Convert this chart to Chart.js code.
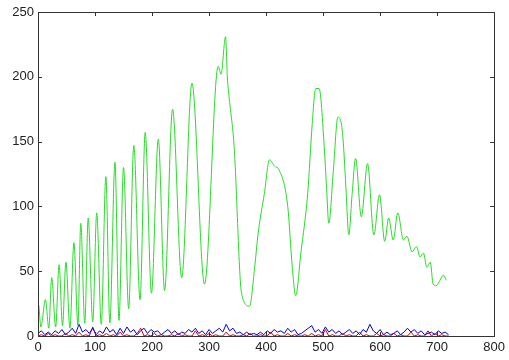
<!DOCTYPE html>
<html>
<head>
<meta charset="utf-8">
<script src="https://cdn.jsdelivr.net/npm/chart.js@4/dist/chart.umd.min.js"></script>
<style>
  html, body { margin: 0; padding: 0; background: #fff; }
  #wrap { width: 509px; height: 360px; }
</style>
</head>
<body>
<div id="wrap"><canvas id="chart" width="509" height="360"></canvas></div>
<script>
// green trace: peaks, troughs and a few flank points
const greenX = [0, 1, 5, 13, 19, 24, 31, 37, 43, 49, 56, 63, 70, 75, 82, 88, 96, 103, 111, 119, 126,
  135, 142, 150, 159, 168, 179, 188, 199, 211, 222, 236, 252, 270, 292, 316, 321, 329, 332, 335, 344,
  357, 371, 380, 386, 397, 406, 415, 423, 438, 446, 452, 461, 473, 481, 487, 493, 502, 506, 510, 518,
  526, 534, 540, 545, 551, 557, 567,
  578, 589, 599, 608, 615, 623, 631, 641, 647, 656, 664, 670, 676, 682, 688, 693, 699, 705, 711, 716];
const greenY = [18, 24, 7, 28, 6, 45, 7, 55, 8, 57, 6, 72, 8, 87, 10, 91, 11, 95, 9, 123, 10,
  134, 12, 130, 21, 147, 28, 157, 33, 152, 35, 175, 45, 195, 40, 208, 202, 231, 200, 185, 146,
  33, 23, 53, 79, 110, 136, 131, 128, 100, 53, 31, 64, 110, 164, 191, 191, 146, 115, 87, 128,
  169, 157, 115, 78, 110, 137, 92,
  133, 78, 109, 73, 91, 74, 95, 74, 77, 65, 69, 61, 64, 53, 57, 40, 39, 43, 47, 43];

// blue and red noise near the baseline, one value every 6 units
const noiseStep = 6;
const blueY = [2, 4, 1, 3, 1, 4, 2, 5, 1, 3, 6, 2, 9, 3, 5, 2, 6, 1, 4, 2, 7, 3, 5, 1, 6, 2, 7, 3, 5, 1,
  4, 6, 2, 5, 3, 4, 1, 3, 5, 2, 4, 1, 3, 2, 5, 3, 6, 2, 4, 1, 5, 2, 4, 6, 3, 9, 4, 6, 2, 3,
  1, 3, 1, 2, 1, 3, 1, 4, 2, 5, 3, 4, 2, 6, 3, 5, 1, 2, 4, 6, 8, 3, 5, 2, 7, 3, 5, 2, 4, 1,
  3, 5, 2, 4, 1, 5, 3, 9, 4, 2, 5, 1, 3, 1, 2, 4, 1, 3, 6, 3, 5, 2, 4, 1, 2, 3, 1, 4, 2, 3, 1];
const redY = [0, 1, 0, 2, 0, 1, 0, 0, 2, 0, 1, 0, 3, 0, 1, 0, 7, 0, 1, 0, 2, 0, 1, 0, 3, 0, 1, 0, 0, 2,
  6, 0, 1, 0, 2, 0, 1, 0, 0, 1, 0, 2, 0, 1, 0, 0, 4, 0, 1, 0, 2, 0, 1, 0, 0, 3, 0, 1, 0, 0,
  1, 0, 2, 0, 0, 1, 0, 0, 3, 0, 1, 0, 0, 2, 0, 1, 0, 0, 1, 0, 2, 0, 1, 0, 5, 0, 1, 0, 0, 2,
  0, 1, 0, 0, 3, 0, 1, 0, 0, 2, 0, 1, 0, 0, 2, 0, 1, 0, 0, 3, 0, 1, 0, 0, 4, 0, 2, 0, 1, 0, 0];

const xTicks = [0, 100, 200, 300, 400, 500, 600, 700, 800];
const yTicks = [0, 50, 100, 150, 200, 250];

const pts = (xs, ys) => ys.map((y, i) => ({ x: xs[i], y }));
const stepPts = (ys) => ys.map((y, i) => ({ x: i * noiseStep, y }));

// frame with inward ticks on all four sides
const framePlugin = {
  id: 'frame',
  afterDraw(chart) {
    const { ctx, chartArea: a, scales } = chart;
    ctx.save();
    ctx.strokeStyle = '#333';
    ctx.lineWidth = 1;
    ctx.strokeRect(Math.round(a.left) + 0.5, Math.round(a.top) + 0.5,
      Math.round(a.right - a.left), Math.round(a.bottom - a.top));
    ctx.beginPath();
    xTicks.forEach(v => {
      const px = Math.round(scales.x.getPixelForValue(v)) + 0.5;
      ctx.moveTo(px, a.bottom); ctx.lineTo(px, a.bottom - 4);
      ctx.moveTo(px, a.top); ctx.lineTo(px, a.top + 4);
    });
    yTicks.forEach(v => {
      const py = Math.round(scales.y.getPixelForValue(v)) + 0.5;
      ctx.moveTo(a.left, py); ctx.lineTo(a.left + 4, py);
      ctx.moveTo(a.right, py); ctx.lineTo(a.right - 4, py);
    });
    ctx.stroke();
    ctx.restore();
  }
};

const tickFont = { family: 'Liberation Sans', size: 13 };

new Chart(document.getElementById('chart'), {
  type: 'line',
  data: {
    datasets: [
      { label: 'green', data: pts(greenX, greenY), borderColor: 'rgb(40,220,40)', borderWidth: 1,
        pointRadius: 0, cubicInterpolationMode: 'monotone', order: 0 },
      { label: 'blue', data: stepPts(blueY), borderColor: 'rgb(0,0,225)', borderWidth: 1,
        pointRadius: 0, order: 1 },
      { label: 'red', data: stepPts(redY), borderColor: 'rgb(225,0,0)', borderWidth: 1,
        pointRadius: 0, order: 2 },
    ]
  },
  options: {
    responsive: false,
    animation: false,
    layout: { padding: { top: 12, right: 12, left: 0, bottom: 0 } },
    plugins: { legend: { display: false }, tooltip: { enabled: false } },
    scales: {
      x: {
        type: 'linear', min: 0, max: 800,
        grid: { display: false, drawTicks: false },
        border: { display: false },
        afterFit: s => { s.height = 24; },
        afterBuildTicks: s => { s.ticks = xTicks.map(value => ({ value })); },
        ticks: { padding: 4, color: '#222', font: tickFont, maxRotation: 0 }
      },
      y: {
        min: 0, max: 250,
        grid: { display: false, drawTicks: false },
        border: { display: false },
        afterFit: s => { s.width = 38; },
        afterBuildTicks: s => { s.ticks = yTicks.map(value => ({ value })); },
        ticks: { padding: 4, color: '#222', font: tickFont }
      }
    }
  },
  plugins: [framePlugin]
});
</script>
</body>
</html>
